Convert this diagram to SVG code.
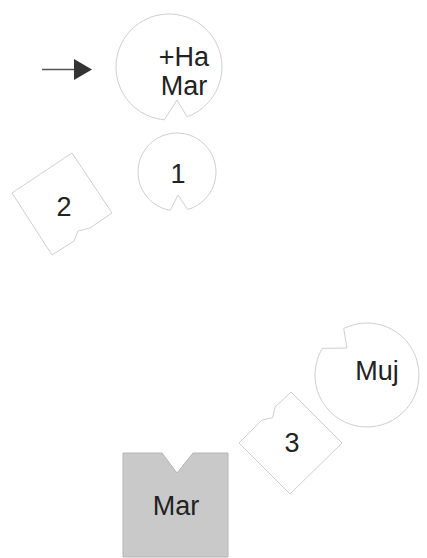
<svg xmlns="http://www.w3.org/2000/svg" width="427" height="558" viewBox="0 0 427 558">
<style>
.shape{fill:#ffffff;stroke:#cfcfcf;stroke-width:1;stroke-linejoin:round}
.grey{fill:#c9c9c9;stroke:#b5b5b5;stroke-width:1}
.lbl{font-family:"Liberation Sans",Arial,sans-serif;font-size:27px;fill:#222222;text-anchor:middle}
</style>
<rect width="427" height="558" fill="#ffffff"/>
<g id="connectors">
<line x1="42" y1="69.5" x2="75" y2="69.5" stroke="#555555" stroke-width="1.6"/>
<polygon points="74,59 92,69.5 74,80" fill="#333333"/>
</g>
<g id="node-start">
<path class="shape" d="M164.4,119.8 A53,53 0 1 1 187.1,116.8 L177,100 Z"/>
<text class="lbl" x="184" y="66">+Ha</text>
<text class="lbl" x="184" y="95">Mar</text>
</g>
<g id="node-1">
<path class="shape" d="M170.2,210.4 A39,39 0 1 1 187.7,209.5 L178,195 Z"/>
<text class="lbl" x="178" y="183">1</text>
</g>
<g id="node-2">
<polygon class="shape" points="72,153 112,213 90,228 78,231 74,241 52,255 12,193"/>
<text class="lbl" x="64" y="216">2</text>
</g>
<g id="node-muj">
<path class="shape" d="M343.7,328.5 A52,52 0 1 1 322.3,348.4 L347,348 Z"/>
<text class="lbl" x="377" y="380">Muj</text>
</g>
<g id="node-3">
<polygon class="shape" points="291,392 342,443 290,494 239,443 262,420 272.7,417.7 275,407"/>
<text class="lbl" x="292" y="452">3</text>
</g>
<g id="node-mar">
<path class="grey" d="M123,453 L162,453 L177,473 L193,453 L228,453 L228,557 L123,557 Z"/>
<text class="lbl" x="176" y="515">Mar</text>
</g>
</svg>
